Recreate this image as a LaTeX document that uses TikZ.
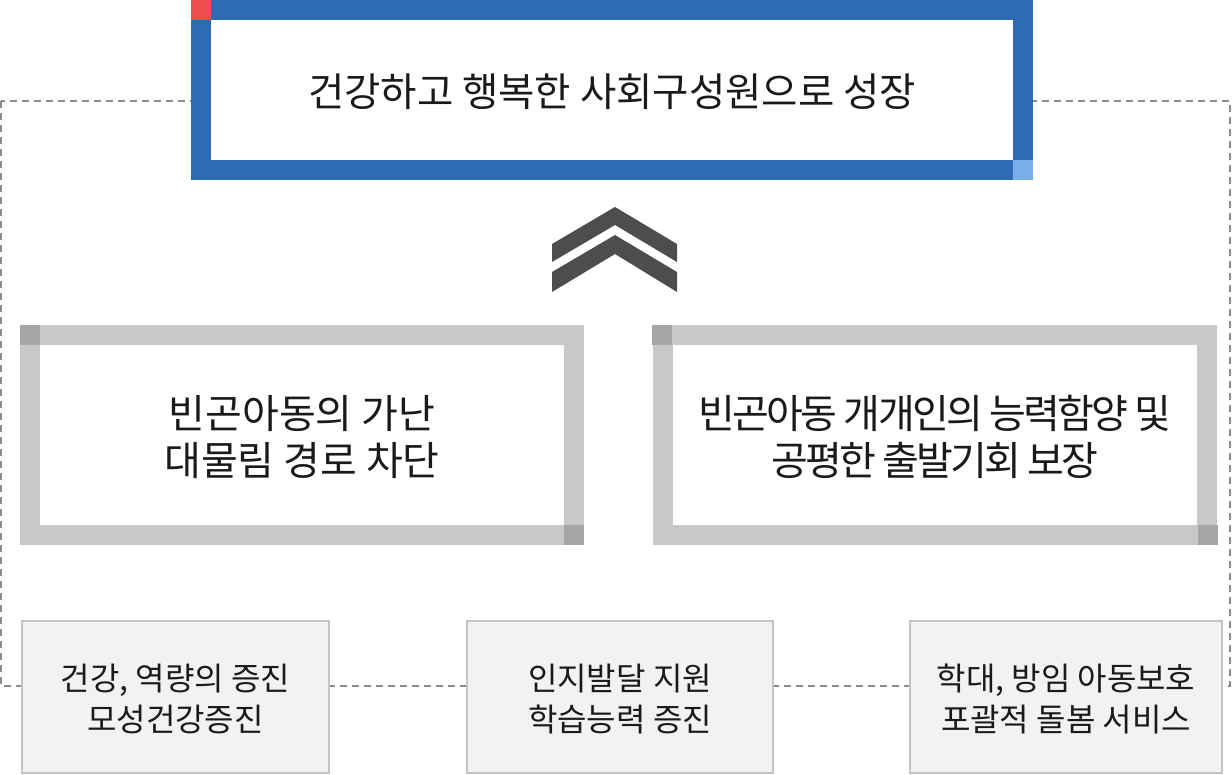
\documentclass[tikz,border=0pt]{standalone}
\usepackage{fontspec}
\setmainfont{Noto Sans CJK KR}
\newfontfamily\tightfont[LetterSpace=-6.8]{Noto Sans CJK KR}
\begin{document}
\begin{tikzpicture}[x=1pt,y=-1pt,
  topbox/.style={draw=topblue,line width=20pt,fill=white,minimum width=822pt,minimum height=160pt,inner sep=0pt},
  greybox/.style={draw=boxgray,line width=20pt,fill=white,minimum width=544pt,minimum height=200pt,inner sep=0pt},
  leaf/.style={draw=leafline,line width=2pt,fill=leaffill,minimum height=152pt,inner sep=0pt},
  dashframe/.style={draw=dashgray,line width=2pt,dash pattern=on 7pt off 5pt},
  chev/.style={fill=chevgray},
  maintext/.style={font=\fontsize{39.5}{46}\selectfont,text=txt,align=center},
  midtext/.style={font=\fontsize{40}{47}\selectfont,text=txt,align=center},
  tighttext/.style={font=\tightfont\fontsize{40}{47}\selectfont,text=txt,align=center},
  leaftext/.style={font=\fontsize{32}{41}\selectfont,text=txt,align=center}]
\definecolor{topblue}{HTML}{2F6BB5}
\definecolor{redsq}{HTML}{F04B4F}
\definecolor{lightblue}{HTML}{7AAEEA}
\definecolor{boxgray}{HTML}{C8C8C8}
\definecolor{cornergray}{HTML}{A6A6A6}
\definecolor{leafline}{HTML}{C4C4C4}
\definecolor{leaffill}{HTML}{F2F2F2}
\definecolor{dashgray}{HTML}{8C8C8C}
\definecolor{chevgray}{HTML}{4D4D4D}
\definecolor{txt}{HTML}{1A1A1A}
\useasboundingbox (0,0) rectangle (1232,775);
% dashed frame
\draw[dashframe] (1,101) rectangle (1230,686);
% top box
\node[topbox] (top) at (612,90) {};
\fill[redsq] (191,0) rectangle (211,20);
\fill[lightblue] (1013,160) rectangle (1033,180);
\node[maintext] (toptext) at (612,92) {건강하고 행복한 사회구성원으로 성장};
% chevrons
\fill[chev] (552,262) -- (552,244) -- (615,207) -- (677,244) -- (677,262) -- (615,225) -- cycle;
\fill[chev] (552,292) -- (552,272) -- (615,235) -- (677,272) -- (677,292) -- (615,254) -- cycle;
% grey boxes
\node[greybox] (left) at (302,435) {};
\fill[cornergray] (20,325) rectangle (40,345);
\fill[cornergray] (564,525) rectangle (584,545);
\node[midtext] (lefttext) at (302,437) {빈곤아동의 가난\\대물림 경로 차단};
\node[greybox] (right) at (935,435) {};
\fill[cornergray] (652,325) rectangle (672,345);
\fill[cornergray] (1198,525) rectangle (1218,545);
\node[tighttext] (righttext) at (935,437) {빈곤아동 개개인의 능력함양 및\\공평한 출발기회 보장};
% bottom boxes
\node[leaf,minimum width=307pt] (b1) at (175.5,697) {};
\node[leaftext] (b1t) at (175.5,699) {건강, 역량의 증진\\모성건강증진};
\node[leaf,minimum width=306pt] (b2) at (620,697) {};
\node[leaftext] (b2t) at (620,699) {인지발달 지원\\학습능력 증진};
\node[leaf,minimum width=312pt] (b3) at (1066,697) {};
\node[leaftext] (b3t) at (1066,699) {학대, 방임 아동보호\\포괄적 돌봄 서비스};
\end{tikzpicture}
\end{document}
